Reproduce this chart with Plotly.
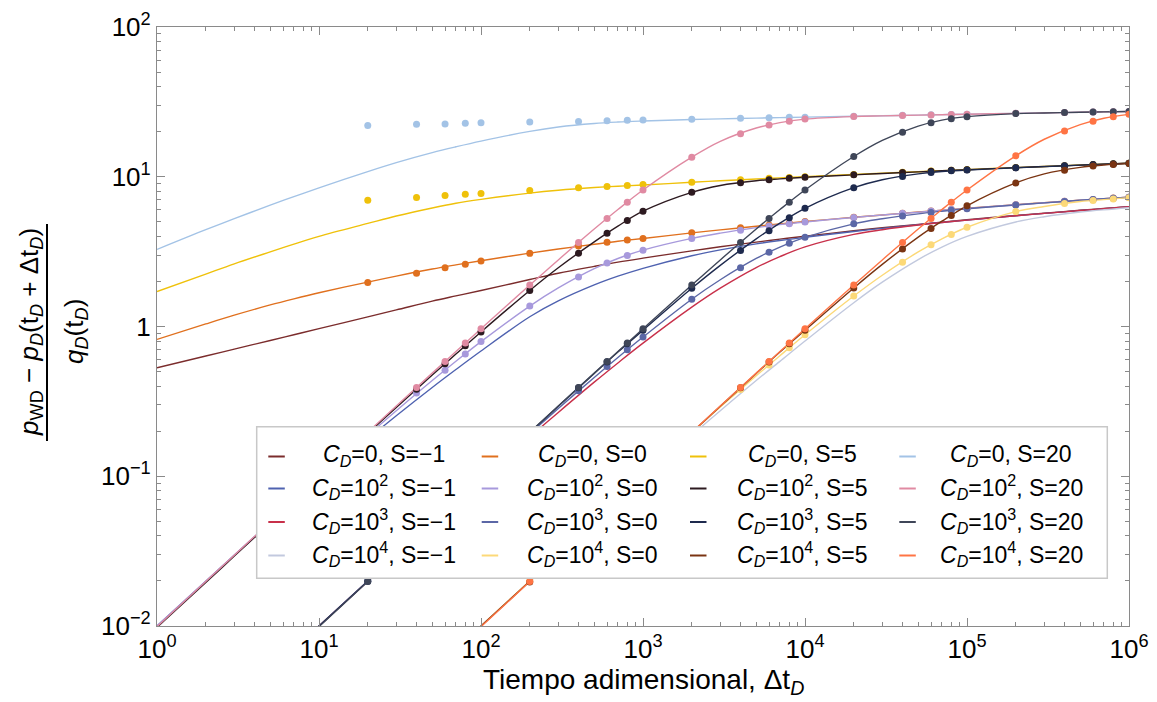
import plotly.graph_objects as go

# ---------------- data ----------------
T_LINE = [1, 2, 3, 5, 7, 10, 20, 30, 50, 70, 100, 200, 300, 500, 700,
          1e3, 2e3, 3e3, 5e3, 7e3, 1e4, 2e4, 3e4, 5e4, 7e4,
          1e5, 2e5, 3e5, 5e5, 7e5, 1e6]
T_DOTS = [20, 40, 60, 80, 100, 200, 400, 600, 800, 1e3, 2e3, 4e3, 6e3, 8e3,
          1e4, 2e4, 4e4, 6e4, 8e4, 1e5, 2e5, 4e5, 6e5, 8e5, 1e6]

CD_LABELS = ["0", "10<sup>2</sup>", "10<sup>3</sup>", "10<sup>4</sup>"]
S_LABELS = ["\u22121", "0", "5", "20"]

# S = -1
LINE_CD0_SM1 = [0.53, 0.635, 0.706, 0.807, 0.881, 0.968, 1.16, 1.29, 1.476, 1.60, 1.74, 2.06, 2.27, 2.52, 2.69,
                2.86, 3.20, 3.41, 3.66, 3.83, 4.01, 4.36, 4.56, 4.81, 4.98, 5.16, 5.51, 5.71, 5.97, 6.14, 6.31]
LINE_CD2_SM1 = [0.0100, 0.0199, 0.0297, 0.0489, 0.0675, 0.0945, 0.1774, 0.2535, 0.3916, 0.516, 0.686, 1.162, 1.482, 1.894, 2.167,
                2.446, 2.97, 3.25, 3.56, 3.75, 3.94, 4.31, 4.52, 4.78, 4.95, 5.13, 5.49, 5.69, 5.95, 6.12, 6.30]
LINE_CD3_SM1 = [0.001, 0.002, 0.003, 0.005, 0.007, 0.0100, 0.0199, 0.0296, 0.0487, 0.0674, 0.0948, 0.1831, 0.2668, 0.4249, 0.571,
                0.774, 1.347, 1.803, 2.475, 2.928, 3.40, 4.12, 4.43, 4.76, 4.95, 5.13, 5.49, 5.69, 5.95, 6.12, 6.30]
LINE_CD4_SM1 = [0.0001, 0.0002, 0.0003, 0.0005, 0.0007, 0.001, 0.002, 0.003, 0.005, 0.007, 0.0100, 0.0199, 0.0298, 0.0492, 0.0684,
                0.0970, 0.188, 0.274, 0.436, 0.585, 0.80, 1.442, 1.978, 2.80, 3.393, 3.998, 4.99, 5.41, 5.81, 6.02, 6.21]
# S = 0
LINE_CD0_S0 = [0.82, 1.04, 1.19, 1.393, 1.53, 1.68, 1.98, 2.17, 2.42, 2.58, 2.75, 3.09, 3.29, 3.54, 3.71,
               3.87, 4.22, 4.42, 4.67, 4.84, 5.02, 5.36, 5.56, 5.81, 5.98, 6.16, 6.51, 6.71, 6.97, 7.14, 7.31]
LINE_CD2_S0 = [0.0100, 0.01993, 0.02977, 0.04925, 0.06843, 0.09672, 0.1875, 0.2739, 0.436, 0.586, 0.7925, 1.3695, 1.811, 2.436, 2.844,
               3.233, 3.873, 4.20, 4.57, 4.79, 4.99, 5.35, 5.55, 5.80, 5.97, 6.15, 6.50, 6.70, 6.96, 7.13, 7.30]
LINE_CD3_S0 = [0.001, 0.002, 0.003, 0.005, 0.007, 0.0100, 0.0200, 0.0300, 0.0497, 0.0693, 0.0983, 0.1925, 0.2835, 0.4571, 0.6209,
               0.85, 1.521, 2.053, 2.848, 3.392, 3.94, 4.85, 5.24, 5.655, 5.89, 6.115, 6.47, 6.69, 6.96, 7.13, 7.30]
LINE_CD4_S0 = [0.0001, 0.0002, 0.0003, 0.0005, 0.0007, 0.001, 0.002, 0.003, 0.005, 0.007, 0.0100, 0.0200, 0.0300, 0.0499, 0.0698,
               0.0997, 0.1963, 0.2897, 0.4685, 0.6383, 0.88, 1.597, 2.20, 3.147, 3.85, 4.60, 5.85, 6.33, 6.83, 7.04, 7.25]
# S = 5
LINE_CD0_S5 = [1.71, 2.24, 2.62, 3.15, 3.55, 4.00, 4.88, 5.47, 6.19, 6.65, 7.06, 7.78, 8.13, 8.47, 8.65,
               8.81, 9.18, 9.40, 9.66, 9.83, 10.01, 10.36, 10.56, 10.81, 10.98, 11.16, 11.51, 11.71, 11.97, 12.14, 12.31]
LINE_CD2_S5 = [0.0098, 0.0195, 0.0293, 0.0487, 0.0682, 0.0972, 0.1931, 0.2877, 0.4737, 0.6551, 0.92, 1.741, 2.467, 3.675, 4.68,
               5.885, 7.87, 8.745, 9.40, 9.68, 9.93, 10.30, 10.52, 10.78, 10.96, 11.14, 11.50, 11.70, 11.96, 12.13, 12.30]
LINE_CD3_S5 = [0.001, 0.002, 0.003, 0.005, 0.007, 0.0100, 0.0199, 0.0298, 0.0496, 0.0693, 0.0985, 0.196, 0.293, 0.486, 0.675,
               0.945, 1.80, 2.56, 3.85, 4.90, 6.15, 8.45, 9.55, 10.45, 10.85, 11.08, 11.48, 11.69, 11.95, 12.12, 12.30]
LINE_CD4_S5 = [0.0001, 0.0002, 0.0003, 0.0005, 0.0007, 0.001, 0.002, 0.003, 0.005, 0.007, 0.0100, 0.0199, 0.0298, 0.0496, 0.0693,
               0.0985, 0.196, 0.293, 0.486, 0.675, 0.945, 1.81, 2.60, 3.95, 5.05, 6.40, 9.10, 10.45, 11.55, 11.98, 12.28]
# S = 20
LINE_CD0_S20 = [3.27, 4.43, 5.25, 6.46, 7.37, 8.43, 10.83, 12.43, 14.5, 15.85, 17.3, 20.1, 21.5, 22.7, 23.2,
                23.55, 24.1, 24.35, 24.64, 24.82, 25.0, 25.36, 25.56, 25.81, 25.98, 26.16, 26.51, 26.71, 26.97, 27.14, 27.31]
LINE_CD2_S20 = [0.0099, 0.0198, 0.0297, 0.0495, 0.0692, 0.0988, 0.1968, 0.2944, 0.4884, 0.6804, 0.965, 1.890, 2.784, 4.478, 6.04,
                8.153, 13.52, 17.24, 21.15, 23.0, 24.27, 25.25, 25.5, 25.78, 25.96, 26.15, 26.5, 26.7, 26.96, 27.13, 27.3]
LINE_CD3_S20 = [0.00099, 0.00198, 0.00297, 0.00495, 0.00692, 0.0099, 0.0198, 0.0297, 0.0495, 0.0692, 0.0988, 0.1968, 0.2944, 0.4884, 0.6804,
                0.965, 1.890, 2.784, 4.478, 6.04, 8.153, 13.65, 17.5, 21.8, 23.9, 25.2, 26.4, 26.66, 26.94, 27.12, 27.3]
LINE_CD4_S20 = [0.000099, 0.000198, 0.000297, 0.000495, 0.000692, 0.00099, 0.00198, 0.00297, 0.00495, 0.00692, 0.0099, 0.0198, 0.0297, 0.0495, 0.0692,
                0.0988, 0.1968, 0.2944, 0.4884, 0.6804, 0.965, 1.890, 2.784, 4.478, 6.04, 8.153, 13.8, 17.8, 22.3, 24.6, 26.1]

# numerical points (markers)
DOT_CD0_S0 = [1.97, 2.27, 2.47, 2.60, 2.74, 3.08, 3.45, 3.65, 3.78, 3.87, 4.22, 4.57, 4.77, 4.91,
              5.02, 5.36, 5.71, 5.91, 6.05, 6.16, 6.51, 6.86, 7.06, 7.20, 7.31]
DOT_CD2_S0 = [0.1875, 0.36, 0.51, 0.655, 0.7925, 1.37, 2.14, 2.65, 2.98, 3.233, 3.873, 4.40, 4.69, 4.86,
              4.99, 5.35, 5.70, 5.90, 6.04, 6.15, 6.50, 6.85, 7.05, 7.19, 7.30]
DOT_CD3_S0 = [0.0200, 0.0399, 0.0595, 0.0790, 0.0983, 0.1925, 0.372, 0.54, 0.70, 0.85, 1.521, 2.47, 3.13, 3.59,
              3.94, 4.85, 5.47, 5.78, 5.97, 6.115, 6.47, 6.84, 7.05, 7.19, 7.30]
DOT_CD4_S0 = [None, None, None, None, None, 0.0200, 0.0400, 0.0598, 0.0797, 0.0997, 0.1963, 0.3797, 0.5537, 0.72,
              0.88, 1.597, 2.69, 3.51, 4.12, 4.60, 5.85, 6.62, 6.95, 7.11, 7.25]
DOT_CD0_S5 = [6.98, 7.27, 7.50, 7.65, 7.72, 8.10, 8.45, 8.60, 8.75, 8.86, 9.20, 9.55, 9.76, 9.90,
              10.01, 10.36, 10.71, 10.91, 11.05, 11.16, 11.51, 11.86, 12.06, 12.20, 12.31]
DOT_CD2_S5 = [0.1931, 0.381, 0.565, 0.744, 0.92, 1.741, 3.088, 4.19, 5.10, 5.885, 7.87, 9.11, 9.55, 9.77,
              9.93, 10.30, 10.66, 10.88, 11.03, 11.14, 11.50, 11.85, 12.05, 12.20, 12.30]
DOT_CD3_S5 = [0.0199, 0.0397, 0.0595, 0.0792, 0.0985, 0.196, 0.39, 0.58, 0.766, 0.945, 1.80, 3.22, 4.36, 5.33,
              6.15, 8.45, 10.05, 10.66, 10.95, 11.08, 11.48, 11.84, 12.04, 12.18, 12.30]
DOT_CD4_S5 = [None, None, None, None, None, 0.0197, 0.0394, 0.059, 0.0785, 0.0985, 0.196, 0.39, 0.58, 0.766,
              0.945, 1.81, 3.29, 4.51, 5.52, 6.40, 9.10, 11.06, 11.78, 12.09, 12.28]
DOT_CD0_S20 = [22.0, 22.4, 22.5, 22.8, 22.9, 23.2, 23.4, 23.7, 23.8, 23.9, 24.2, 24.6, 24.8, 25.0,
               25.0, 25.36, 25.71, 25.91, 26.05, 26.16, 26.51, 26.86, 27.06, 27.20, 27.31]
DOT_CD2_S20 = [0.1968, 0.3915, 0.584, 0.775, 0.965, 1.890, 3.64, 5.27, 6.76, 8.153, 13.52, 19.34, 22.13, 23.47,
               24.27, 25.25, 25.65, 25.88, 26.03, 26.15, 26.5, 26.86, 27.06, 27.2, 27.3]
DOT_CD3_S20 = [0.0198, 0.0392, 0.0584, 0.0775, 0.0988, 0.1968, 0.3915, 0.584, 0.775, 0.965, 1.890, 3.64, 5.27, 6.76,
               8.153, 13.65, 19.81, 22.9, 24.4, 25.2, 26.4, 26.82, 27.04, 27.19, 27.3]
DOT_CD4_S20 = [None, None, None, None, None, 0.0198, 0.0392, 0.0584, 0.0775, 0.0988, 0.1968, 0.3915, 0.584, 0.775,
               0.965, 1.890, 3.64, 5.27, 6.76, 8.153, 13.8, 20.2, 23.52, 25.16, 26.1]

# (cd index, s index, colour, line values, marker values)
SERIES = [
    (0, 0, "#7b2c2c", LINE_CD0_SM1, None),
    (1, 0, "#4f62b0", LINE_CD2_SM1, None),
    (2, 0, "#c8304a", LINE_CD3_SM1, None),
    (3, 0, "#c2c9de", LINE_CD4_SM1, None),
    (0, 1, "#e0701e", LINE_CD0_S0, DOT_CD0_S0),
    (1, 1, "#a799dc", LINE_CD2_S0, DOT_CD2_S0),
    (2, 1, "#5b67a6", LINE_CD3_S0, DOT_CD3_S0),
    (3, 1, "#fcd978", LINE_CD4_S0, DOT_CD4_S0),
    (0, 2, "#efc10a", LINE_CD0_S5, DOT_CD0_S5),
    (1, 2, "#2d1a20", LINE_CD2_S5, DOT_CD2_S5),
    (2, 2, "#1e2a4e", LINE_CD3_S5, DOT_CD3_S5),
    (3, 2, "#7a3412", LINE_CD4_S5, DOT_CD4_S5),
    (0, 3, "#a3c3e6", LINE_CD0_S20, DOT_CD0_S20),
    (1, 3, "#e08aa2", LINE_CD2_S20, DOT_CD2_S20),
    (2, 3, "#3f4658", LINE_CD3_S20, DOT_CD3_S20),
    (3, 3, "#ff7444", LINE_CD4_S20, DOT_CD4_S20),
]

X_TICKS = [1, 10, 100, 1e3, 1e4, 1e5, 1e6]
X_TICKTEXT = ["10<sup>%d</sup>" % k for k in range(7)]
Y_TICKS = [0.01, 0.1, 1, 10, 100]
Y_TICKTEXT = ["10<sup>\u22122</sup>", "10<sup>\u22121</sup>", "1", "10<sup>1</sup>", "10<sup>2</sup>"]

# ---------------- geometry (pixels) ----------------
W, H = 1157, 702
ML, MR, MT, MB = 157, 28, 27, 76
PW, PH = W - ML - MR, H - MT - MB


def px(x):
    return (x - ML) / PW


def py(y):
    return (H - MB - y) / PH


FONT = "Liberation Sans, Arial, sans-serif"
AXC = "#8a8a8a"

fig = go.Figure()

for cd, s, col, yl, yd in SERIES:
    fig.add_trace(go.Scatter(x=T_LINE, y=yl, mode="lines",
                             line=dict(color=col, width=1.4, shape="spline", smoothing=1.0),
                             showlegend=False, hoverinfo="skip"))
for cd, s, col, yl, yd in SERIES:
    if yd is None:
        continue
    fig.add_trace(go.Scatter(x=T_DOTS, y=yd, mode="markers",
                             marker=dict(color=col, size=7, line=dict(width=0)),
                             showlegend=False, hoverinfo="skip"))

minor_vals = [m * 10 ** e for e in range(0, 6) for m in range(2, 10)]
minor_y = [m * 10.0 ** e for e in range(-2, 2) for m in range(2, 10)]

TICKFONT = dict(family=FONT, size=26, color="black")
fig.update_xaxes(type="log", range=[0, 6], tickmode="array", tickvals=X_TICKS, ticktext=X_TICKTEXT,
                 ticks="inside", ticklen=8, tickwidth=1, tickcolor=AXC,
                 showline=True, linecolor=AXC, linewidth=1.2, mirror="ticks",
                 showgrid=False, zeroline=False,
                 minor=dict(tickmode="array", tickvals=minor_vals, ticks="inside", ticklen=4,
                            tickcolor=AXC, tickwidth=1, showgrid=False),
                 tickfont=TICKFONT)
fig.update_yaxes(type="log", range=[-2, 2], tickmode="array", tickvals=Y_TICKS, ticktext=Y_TICKTEXT,
                 ticks="inside", ticklen=8, tickwidth=1, tickcolor=AXC,
                 showline=True, linecolor=AXC, linewidth=1.2, mirror="ticks",
                 showgrid=False, zeroline=False,
                 minor=dict(tickmode="array", tickvals=minor_y, ticks="inside", ticklen=4,
                            tickcolor=AXC, tickwidth=1, showgrid=False),
                 tickfont=TICKFONT)

shapes = []
annotations = []

# x-axis title
annotations.append(dict(xref="paper", yref="paper", x=px(643), y=py(681), xanchor="center", yanchor="middle",
                        showarrow=False, text="Tiempo adimensional, \u0394t<sub><i>D</i></sub>",
                        font=dict(family=FONT, size=28, color="black")))

# y-axis title as a fraction
annotations.append(dict(xref="paper", yref="paper", x=px(30), y=py(332), xanchor="center", yanchor="middle",
                        textangle=-90, showarrow=False,
                        text="<i>p</i><sub>WD</sub> \u2212 <i>p</i><sub><i>D</i></sub>(t<sub><i>D</i></sub> + \u0394t<sub><i>D</i></sub>)",
                        font=dict(family=FONT, size=26, color="black")))
annotations.append(dict(xref="paper", yref="paper", x=px(75), y=py(332), xanchor="center", yanchor="middle",
                        textangle=-90, showarrow=False,
                        text="<i>q</i><sub><i>D</i></sub>(t<sub><i>D</i></sub>)",
                        font=dict(family=FONT, size=26, color="black")))
shapes.append(dict(type="line", xref="paper", yref="paper", x0=px(47), x1=px(47), y0=py(224), y1=py(441),
                   line=dict(color="black", width=2)))

# legend (drawn by hand: 4 columns by skin, 4 rows by storage)
shapes.append(dict(type="rect", xref="paper", yref="paper", layer="above",
                   x0=px(256.7), x1=px(1107.3), y0=py(578.3), y1=py(426.7),
                   fillcolor="white", line=dict(color="#c8c8c8", width=1.5)))
COL_SAMPLE_X = [268.3, 481.7, 690.0, 899.3]
COL_TEXT_X = [383.5, 592.5, 802.0, 1011.0]
ROW_Y = [455.0, 487.0, 520.5, 554.0]
for cd, s, col, yl, yd in SERIES:
    yy = ROW_Y[cd] + 1.5
    shapes.append(dict(type="line", xref="paper", yref="paper", layer="above",
                       x0=px(COL_SAMPLE_X[s]), x1=px(COL_SAMPLE_X[s] + 16.5), y0=py(yy), y1=py(yy),
                       line=dict(color=col, width=2)))
    annotations.append(dict(xref="paper", yref="paper", x=px(COL_TEXT_X[s]), y=py(ROW_Y[cd]),
                            xanchor="center", yanchor="middle", showarrow=False,
                            text="<i>C</i><sub><i>D</i></sub>=%s, S=%s" % (CD_LABELS[cd], S_LABELS[s]),
                            font=dict(family=FONT, size=23, color="black")))

fig.update_layout(width=W, height=H, margin=dict(l=ML, r=MR, t=MT, b=MB, autoexpand=False),
                  paper_bgcolor="white", plot_bgcolor="white",
                  font=dict(family=FONT, color="black"),
                  shapes=shapes, annotations=annotations, showlegend=False)

fig.write_html("out.html", config={"displayModeBar": False},
               post_script="document.body.style.margin='0';document.body.style.padding='0';")
